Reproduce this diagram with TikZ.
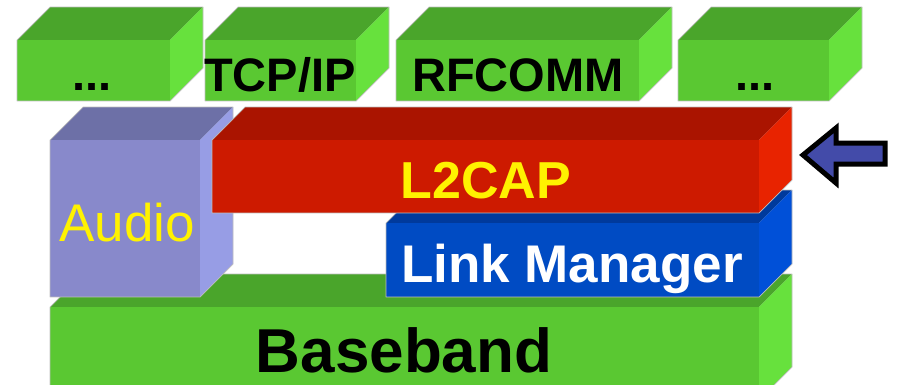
\documentclass[tikz,border=0pt]{standalone}
\usepackage{fontspec}
\setmainfont{Liberation Sans}
\definecolor{gF}{HTML}{5AC832}
\definecolor{gT}{HTML}{4AA52B}
\definecolor{gS}{HTML}{67E13D}
\definecolor{pF}{HTML}{8889CB}
\definecolor{pT}{HTML}{6D70A7}
\definecolor{pS}{HTML}{979DE5}
\definecolor{rF}{HTML}{CD1A00}
\definecolor{rT}{HTML}{AA1400}
\definecolor{rS}{HTML}{E82300}
\definecolor{bF}{HTML}{004BC3}
\definecolor{bT}{HTML}{003A9C}
\definecolor{bS}{HTML}{0050D8}
\definecolor{arrowblue}{HTML}{434BA9}
\definecolor{edgegray}{HTML}{BDBDBD}
% #1 xl, #2 yt, #3 xr, #4 yb, #5 depth, #6 front, #7 top, #8 side
\newcommand\layerbox[8]{%
  \path[fill=#7] (#1,#2) -- (#1+#5,#2-#5) -- (#3+#5,#2-#5) -- (#3,#2) -- cycle;
  \path[fill=#8] (#3,#2) -- (#3+#5,#2-#5) -- (#3+#5,#4-#5) -- (#3,#4) -- cycle;
  \path[fill=#6] (#1,#2) rectangle (#3,#4);
  \path[outlinestyle] (#1,#4) -- (#1,#2) -- (#1+#5,#2-#5) -- (#3+#5,#2-#5) -- (#3+#5,#4-#5) -- (#3,#4) -- cycle;
}
\begin{document}
\begin{tikzpicture}[x=1pt,y=-1pt,
  outlinestyle/.style={draw=edgegray,line width=0.7pt,line join=round},
  boldlabel/.style={inner sep=0pt,anchor=base,font=\bfseries\fontsize{47}{47}\selectfont},
]
\useasboundingbox (0,0) rectangle (897,384);
\begin{scope}
\clip (0,0) rectangle (897,384);
% top row
\layerbox{17}{40}{170}{101}{33}{gF}{gT}{gS}
\layerbox{205}{40}{356}{101}{33}{gF}{gT}{gS}
\layerbox{396}{40}{639}{101}{33}{gF}{gT}{gS}
\layerbox{678}{40}{829}{101}{33}{gF}{gT}{gS}
% baseband
\layerbox{50}{307}{759}{400}{33}{gF}{gT}{gS}
% audio
\layerbox{50}{140}{200}{297}{33}{pF}{pT}{pS}
% link manager
\layerbox{386}{223}{759}{297}{33}{bF}{bT}{bS}
% L2CAP
\layerbox{212}{140}{759}{213}{33}{rF}{rT}{rS}
\end{scope}
% labels
\node[boldlabel] (dotsa) at (92,90) {...};
\node[boldlabel] (tcp) at (280,91) {TCP/IP};
\node[boldlabel] (rfcomm) at (518,91) {RFCOMM};
\node[boldlabel] (dotsb) at (755,90) {...};
\node[boldlabel,text=yellow,font=\bfseries\fontsize{52}{52}\selectfont] (l2cap) at (486,198) {L2CAP};
\node[inner sep=0pt,anchor=base,text=yellow,font=\fontsize{53}{53}\selectfont] (audio) at (127,241) {Audio};
\node[boldlabel,text=white,font=\bfseries\fontsize{53}{53}\selectfont] (lm) at (572,282) {Link Manager};
\node[boldlabel,font=\bfseries\fontsize{62}{62}\selectfont] (bb) at (404,372) {Baseband};
% arrow
\draw[line width=5pt,line join=miter,miter limit=10,fill=arrowblue]
  (803,155) -- (836,128) -- (836,143) -- (885,143) -- (885,164) -- (836,164) -- (836,183) -- cycle;
\end{tikzpicture}
\end{document}
